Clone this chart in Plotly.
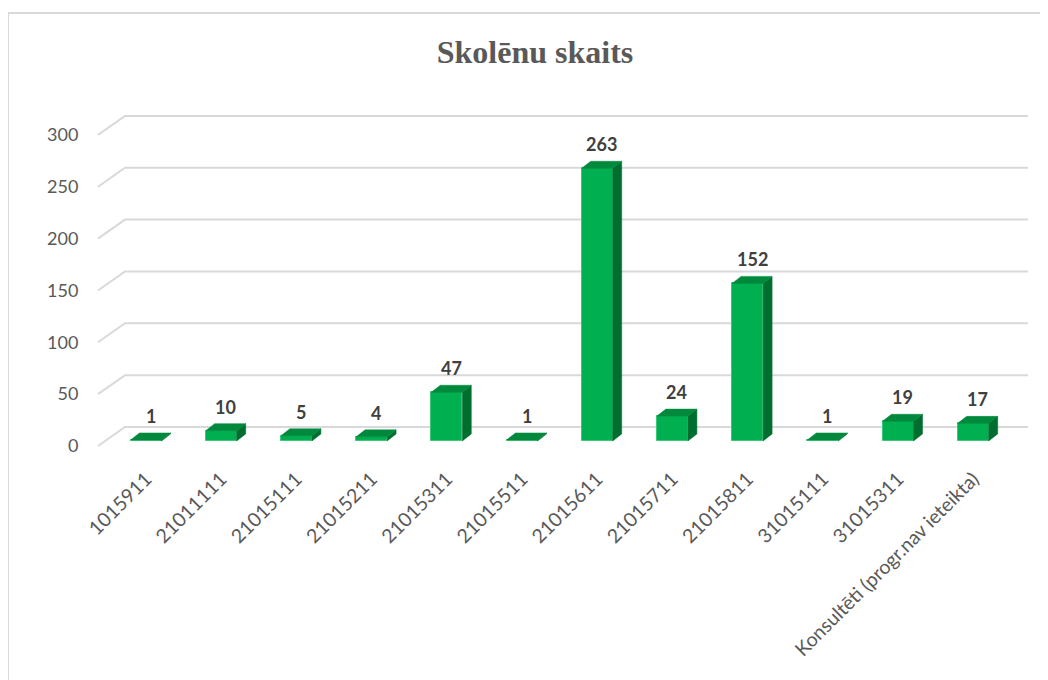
import plotly.graph_objects as go

# ---- data ----
categories = ["1015911", "21011111", "21015111", "21015211", "21015311", "21015511",
              "21015611", "21015711", "21015811", "31015111", "31015311",
              "Konsultēti (progr.nav ieteikta)"]
values = [1, 10, 5, 4, 47, 1, 263, 24, 152, 1, 19, 17]
y_ticks = [0, 50, 100, 150, 200, 250, 300]
title_text = "Skolēnu skaits"

# ---- geometry / style (pseudo-3D); page has an 8px body margin ----
OFF = 8
W, H = 1048 - OFF, 680 - OFF
L_PX, R_PX, T_PX, B_PX = 97 - OFF, 1030 - OFF, 110 - OFF, 450 - OFF
PX_PER_CAT = 75.2
CAT0_PX = 146 - OFF
PX_PER_UNIT = 1.037
ZERO_PX = 446 - OFF

x_rng = [(L_PX - CAT0_PX) / PX_PER_CAT, (R_PX - CAT0_PX) / PX_PER_CAT]
y_rng = [(ZERO_PX - B_PX) / PX_PER_UNIT, (ZERO_PX - T_PX) / PX_PER_UNIT]

bar_base = 5 / PX_PER_UNIT
bar_w = 31 / PX_PER_CAT
bar_dx = 9 / PX_PER_CAT
bar_dy = 7 / PX_PER_UNIT
grid_front_x = (98 - OFF - CAT0_PX) / PX_PER_CAT
grid_back_x = (125 - OFF - CAT0_PX) / PX_PER_CAT
grid_end_x = (1028 - OFF - CAT0_PX) / PX_PER_CAT
grid_dy = 19 / PX_PER_UNIT

GREEN = "#00B050"
GREEN_TOP = "#00893C"
GREEN_SIDE = "#006E2E"
GRID = "#D9D9D9"
TXT = "#595959"

fig = go.Figure()

# gridlines (side wall diagonal + back wall) as shapes below the traces
for v in y_ticks:
    fig.add_shape(type="path", xref="x", yref="y", layer="below",
                  path=f"M {grid_front_x} {v} L {grid_back_x} {v + grid_dy} L {grid_end_x} {v + grid_dy}",
                  line=dict(color=GRID, width=2))

xs = list(range(len(categories)))

# front faces
fig.add_trace(go.Bar(x=xs, y=values, base=[bar_base] * len(values), width=bar_w,
                     marker=dict(color=GREEN, line=dict(color="#3CC77A", width=1)),
                     showlegend=False, hoverinfo="skip"))

# side and top faces
sx, sy = [], []
tx, ty = [], []
for i, v in enumerate(values):
    r = i + bar_w / 2
    l = i - bar_w / 2
    top = bar_base + v
    sx += [r, r + bar_dx, r + bar_dx, r, r, None]
    sy += [bar_base, bar_base + bar_dy, top + bar_dy, top, bar_base, None]
    tx += [l, l + bar_dx, r + bar_dx, r, l, None]
    ty += [top, top + bar_dy, top + bar_dy, top, top, None]
fig.add_trace(go.Scatter(x=sx, y=sy, mode="lines", fill="toself", fillcolor=GREEN_SIDE,
                         line=dict(color=GREEN_SIDE, width=0.5), hoverinfo="skip",
                         showlegend=False))
fig.add_trace(go.Scatter(x=tx, y=ty, mode="lines", fill="toself", fillcolor=GREEN_TOP,
                         line=dict(color=GREEN_TOP, width=0.5), hoverinfo="skip",
                         showlegend=False))

# data labels
for i, v in enumerate(values):
    fig.add_annotation(x=i + bar_dx / 2, y=bar_base + v + bar_dy, text=f"<b>{v}</b>",
                       showarrow=False, yanchor="bottom", yshift=4,
                       font=dict(family="Lato", size=18, color="#404040"))

# outer frame
fig.add_shape(type="rect", xref="paper", yref="paper",
              x0=(8 - OFF - L_PX) / (R_PX - L_PX), x1=(1070 - L_PX) / (R_PX - L_PX),
              y0=(B_PX - 700) / (B_PX - T_PX), y1=(B_PX - (13 - OFF)) / (B_PX - T_PX),
              line=dict(color="#D9D9D9", width=2), fillcolor="rgba(0,0,0,0)", layer="below")

fig.update_layout(
    width=W, height=H,
    margin=dict(l=L_PX, r=W - R_PX, t=T_PX, b=H - B_PX, pad=0),
    paper_bgcolor="white", plot_bgcolor="rgba(0,0,0,0)",
    title=dict(text=f"<b>{title_text}</b>", x=(535 - OFF) / W, xanchor="center",
               y=1 - (52 - OFF) / H, yanchor="middle",
               font=dict(family="Liberation Serif", size=32, color=TXT)),
    xaxis=dict(range=x_rng, tickmode="array", tickvals=xs, ticktext=categories,
               tickangle=-45, showgrid=False, zeroline=False, showline=False,
               ticks="outside", ticklen=9, tickcolor="rgba(0,0,0,0)",
               tickfont=dict(family="Lato", size=19.5, color=TXT)),
    yaxis=dict(range=y_rng, tickmode="array", tickvals=y_ticks,
               showgrid=False, zeroline=False, showline=False,
               ticks="outside", ticklen=14, tickcolor="rgba(0,0,0,0)",
               tickfont=dict(family="Lato", size=18, color=TXT)),
    bargap=0,
)

fig.write_html("out.html")
